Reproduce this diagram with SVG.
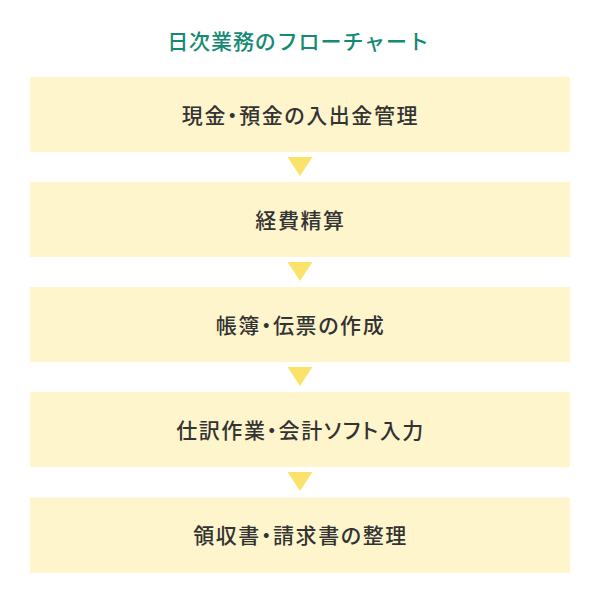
<svg xmlns="http://www.w3.org/2000/svg" width="600" height="603" viewBox="0 0 600 603">
<style>
.title{font-family:"Noto Sans CJK JP","Noto Sans",sans-serif;font-size:21px;font-weight:500;fill:#148a73;letter-spacing:0.9px;text-anchor:middle}
.box{fill:#fef5cc}
.lbl{font-family:"Noto Sans CJK JP","Noto Sans",sans-serif;font-size:21px;font-weight:500;fill:#333333;text-anchor:middle;letter-spacing:1.6px;font-feature-settings:"palt"}
.arr{fill:#fbe26a}
</style>
<rect width="600" height="603" fill="#ffffff"/>
<text id="title" class="title" x="298.5" y="49">日次業務のフローチャート</text>
<g id="node1"><rect class="box" x="30" y="77" width="540" height="75"/><text class="lbl" x="300.5" y="122.5">現金・預金の入出金管理</text></g>
<g id="node2"><rect class="box" x="30" y="182" width="540" height="75"/><text class="lbl" x="300.5" y="227.5">経費精算</text></g>
<g id="node3"><rect class="box" x="30" y="287" width="540" height="75"/><text class="lbl" x="300.5" y="332.5">帳簿・伝票の作成</text></g>
<g id="node4"><rect class="box" x="30" y="392" width="540" height="75"/><text class="lbl" x="300.5" y="437.5">仕訳作業・会計ソフト入力</text></g>
<g id="node5"><rect class="box" x="30" y="497.5" width="540" height="75.5"/><text class="lbl" x="300.5" y="543">領収書・請求書の整理</text></g>
<g id="connectors">
<polygon class="arr" points="287.5,157 312.5,157 300,176"/>
<polygon class="arr" points="287.5,262 312.5,262 300,281"/>
<polygon class="arr" points="287.5,367 312.5,367 300,386"/>
<polygon class="arr" points="287.5,472 312.5,472 300,491"/>
</g>
</svg>
